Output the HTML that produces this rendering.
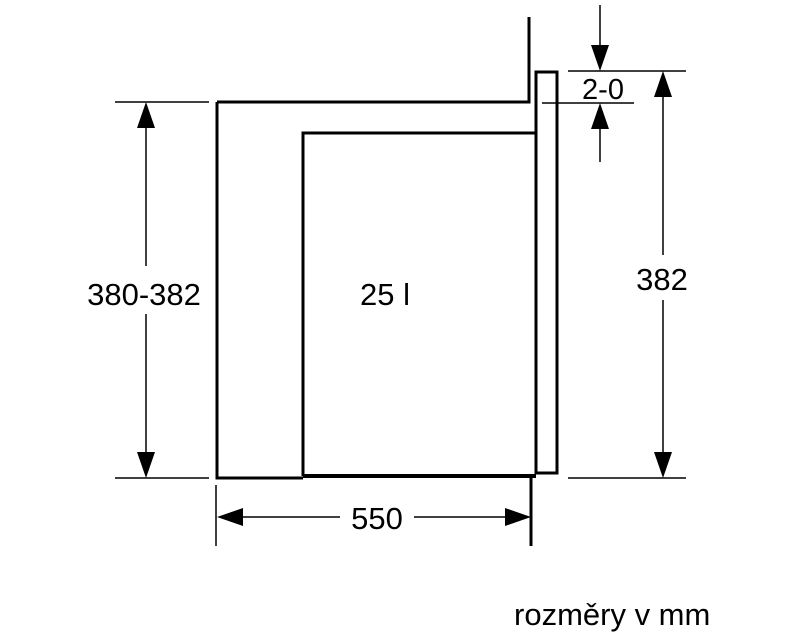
<!DOCTYPE html>
<html><head><meta charset="utf-8"><style>html,body{margin:0;padding:0;background:#fff}svg{display:block}</style></head>
<body>
<svg width="800" height="640" viewBox="0 0 800 640" xmlns="http://www.w3.org/2000/svg" font-family="Liberation Sans, sans-serif" fill="#000">
<g stroke="#000" fill="none" stroke-width="3">
<polyline points="217,102 529,102 529,17"/>
<polyline points="217,102 217,478 303,478"/>
<polyline points="303,476 303,133 536,133"/>
<line x1="303" y1="476" x2="536" y2="476" stroke-width="4"/>
<rect x="536" y="72" width="21" height="401"/>
<line x1="531" y1="476" x2="531" y2="546"/>
</g>
<g stroke="#000" stroke-width="1.5">
<line x1="216" y1="485" x2="216" y2="546"/>
<line x1="115" y1="102" x2="209" y2="102"/>
<line x1="115" y1="478" x2="209" y2="478"/>
<line x1="146" y1="120" x2="146" y2="266"/>
<line x1="146" y1="314" x2="146" y2="460"/>
<line x1="232" y1="517" x2="340" y2="517"/>
<line x1="414" y1="517" x2="516" y2="517"/>
<line x1="568" y1="71" x2="686" y2="71"/>
<line x1="542" y1="103" x2="634" y2="103"/>
<line x1="568" y1="478" x2="686" y2="478"/>
<line x1="600" y1="5" x2="600" y2="50"/>
<line x1="600" y1="124" x2="600" y2="162"/>
<line x1="663" y1="92" x2="663" y2="255"/>
<line x1="663" y1="300" x2="663" y2="458"/>
</g>
<polygon points="146,102 137,128 155,128"/>
<polygon points="146,478 137,452 155,452"/>
<polygon points="217,517 243,508 243,526"/>
<polygon points="531,517 505,508 505,526"/>
<polygon points="600,71 591,45 609,45"/>
<polygon points="600,103 591,129 609,129"/>
<polygon points="663,71 654,97 672,97"/>
<polygon points="663,478 654,452 672,452"/>
<g font-size="31" text-anchor="middle">
<text x="144" y="305">380-382</text>
<text x="385" y="305">25 l</text>
<text x="377" y="529">550</text>
<text x="662" y="290">382</text>
<text x="603" y="99" font-size="29">2-0</text>
</g>
<text x="514" y="625" font-size="31">rozměry v mm</text>
</svg>
</body></html>
